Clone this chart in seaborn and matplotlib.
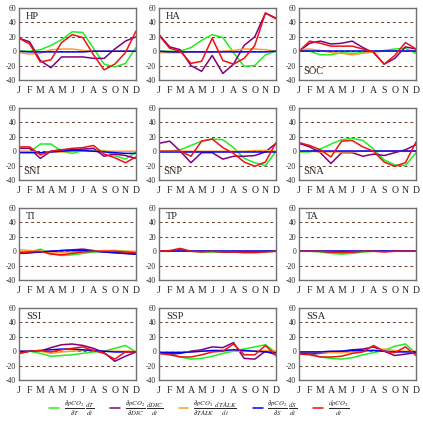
import matplotlib
matplotlib.use("Agg")
import matplotlib.pyplot as plt
from matplotlib.lines import Line2D
import pandas as pd
import seaborn as sns

months = ["J", "F", "M", "A", "M", "J", "J", "A", "S", "O", "N", "D"]
terms = ["thermal", "dic", "talk", "salinity", "total"]
term_colors = ["#22ee22", "#800080", "#ff9a33", "#0000ee", "#ee1111"]
term_labels = [
    r"$\frac{\partial pCO_2}{\partial T}\,\frac{dT}{dt}$",
    r"$\frac{\partial pCO_2}{\partial DIC}\,\frac{dDIC}{dt}$",
    r"$\frac{\partial pCO_2}{\partial TALK}\,\frac{dTALK}{dt}$",
    r"$\frac{\partial pCO_2}{\partial S}\,\frac{dS}{dt}$",
    r"$\frac{dpCO_2}{dt}$",
]

regions = ["HP", "HA", "SOC", "SNI", "SNP", "SNA", "TI", "TP", "TA", "SSI", "SSP", "SSA"]
label_at_bottom = ["SOC", "SNI", "SNP", "SNA"]

# values, per region: thermal, dic, talk, salinity, total
hp_thermal = [0, 0, 2, 8, 16, 27, 26, 4, -18, -22, -17, 5]
hp_dic = [18, 13, -13, -23, -8, -8, -8, -10, -10, 3, 14, 20]
hp_talk = [-2, -4, -3, 2, 3, 3, 1, 0, 0, 0, 0, 0]
hp_sal = [0, -1, -1, -1, -1, -1, -1, 0, 0, 0, 0, 0]
hp_total = [18, 10, -15, -12, 12, 23, 19, -5, -26, -18, -2, 28]

ha_thermal = [0, 0, 0, 5, 15, 23, 19, -2, -21, -20, -5, 0]
ha_dic = [23, 6, 2, -20, -28, -6, -31, -18, 8, 20, 53, 46]
ha_talk = [-2, -2, -2, -1, -1, -1, 0, 1, 3, 3, 2, 0]
ha_sal = [0, -1, -1, -1, -1, -1, -1, -1, -1, -1, -1, 0]
ha_total = [22, 4, 0, -17, -14, 18, -13, -18, -10, 8, 53, 45]

soc_thermal = [0, 0, -5, -5, -2, -3, -2, -1, 1, 3, 4, -3]
soc_dic = [0, 11, 14, 10, 11, 14, 5, -2, -18, -10, 6, 3]
soc_talk = [2, 3, 1, -2, -3, -5, -3, -1, 0, 0, 0, 0]
soc_sal = [0, 0, 0, 0, 0, 0, 0, 0, 0, 0, 0, 0]
soc_total = [0, 14, 11, 7, 7, 7, 3, -1, -18, -6, 12, 3]

sni_thermal = [-1, -1, 10, 10, 0, -3, 1, 1, 1, -6, -11, -1]
sni_dic = [4, 4, -10, 0, 2, 2, 3, 4, -7, -4, -6, -10]
sni_talk = [0, 0, -3, -1, -1, 0, 0, 0, 0, 0, 0, 0]
sni_sal = [-2, -2, -2, -1, 0, 1, 1, 0, -1, -2, -3, -3]
sni_total = [6, 6, -5, 0, 2, 4, 5, 8, -4, -9, -16, -8]

snp_thermal = [0, 0, 2, 8, 14, 17, 16, 5, -10, -16, -20, 0]
snp_dic = [11, 14, 0, -16, -2, -2, -11, -7, -7, -6, -1, 11]
snp_talk = [0, 0, 0, 0, 0, 0, 0, 0, 0, 1, 1, 0]
snp_sal = [-1, -1, -1, -1, -1, -1, -1, -1, -1, -1, -1, -1]
snp_total = [0, 0, 0, -7, 14, 17, 5, -3, -15, -21, -15, 12]

sna_thermal = [-1, -1, 3, 10, 16, 18, 15, 3, -12, -19, -20, -2]
sna_dic = [11, 6, -2, -17, -2, -2, -7, -4, -6, -2, 2, 9]
sna_talk = [0, 0, -1, -1, -1, -1, 0, 0, 0, 0, 0, 0]
sna_sal = [0, 0, 0, 0, 0, 0, 0, 0, 0, 0, 0, 0]
sna_total = [12, 8, 2, -8, 14, 15, 6, 0, -15, -21, -16, 13]

ti_thermal = [-1, -1, 3, -3, -6, -5, -3, -1, 0, 1, 0, -1]
ti_dic = [-3, -2, -1, 0, 1, 2, 3, 1, -1, -2, -3, -4]
ti_talk = [2, 1, 0, -2, -2, -1, 0, 0, 1, 1, 0, 0]
ti_sal = [-3, -2, -1, 0, 1, 1, 1, 0, -1, -2, -3, -4]
ti_total = [-2, -1, 0, -4, -5, -3, -1, 0, 0, 0, -1, -2]

tp_thermal = [0, 0, 2, 0, -1, -1, -1, -1, -1, -1, -1, 0]
tp_dic = [0, 0, 2, 0, 0, 0, -1, -1, -1, -1, 0, 0]
tp_talk = [0, 0, 1, 0, 0, 0, 0, 0, 0, 0, 0, 0]
tp_sal = [0, 0, 0, 0, 0, 0, 0, 0, 0, 0, 0, 0]
tp_total = [0, 1, 4, 0, -1, 0, -1, -1, -2, -2, -1, 0]

ta_thermal = [0, 0, -1, -3, -4, -3, -1, 0, 0, 1, 0, 0]
ta_dic = [0, 0, 0, -1, -1, -1, 0, 0, 0, 0, 0, 0]
ta_talk = [0, 0, 0, 0, 0, 0, 0, 0, 0, 0, 0, 0]
ta_sal = [0, 0, 0, 0, 0, 0, 0, 0, 0, 0, 0, 0]
ta_total = [0, 0, 0, -1, -2, -1, 0, 0, -1, 0, 0, 0]

ssi_thermal = [-2, 0, -3, -7, -6, -5, -3, -1, 0, 4, 8, -1]
ssi_dic = [-3, 0, 0, 5, 9, 10, 8, 4, -2, -14, -7, -1]
ssi_talk = [0, 0, 0, -3, -1, 0, 1, 1, 0, 0, 0, 0]
ssi_sal = [0, 0, 1, 2, 3, 3, 2, 1, 0, -1, -1, -1]
ssi_total = [-3, 0, 1, -1, 2, 4, 6, 1, -3, -11, -1, -1]

ssp_thermal = [-2, -3, -8, -11, -10, -7, -3, 0, 3, 6, 9, -2]
ssp_dic = [-3, -4, -3, 0, 2, 6, 5, 12, -10, -11, 0, -5]
ssp_talk = [-1, -1, -1, -1, 0, 0, 0, 0, 0, 0, 1, 0]
ssp_sal = [-2, -2, -2, -1, 0, 1, 1, 2, 1, 0, -1, -2]
ssp_total = [-3, -5, -8, -8, -5, -1, 0, 10, -5, -5, 8, -6]

ssa_thermal = [-2, -3, -8, -10, -11, -9, -5, -2, 1, 7, 10, -3]
ssa_dic = [-3, -4, -3, -1, 0, 2, 3, 6, 0, -6, -4, -2]
ssa_talk = [-1, -1, -2, -2, -2, -1, 0, 1, 3, 1, 0, 0]
ssa_sal = [-1, -1, -1, 0, 0, 1, 1, 1, 0, -1, -1, -1]
ssa_total = [-4, -5, -8, -8, -7, -3, -1, 8, 0, -2, 6, -6]

series = {
    "HP": [hp_thermal, hp_dic, hp_talk, hp_sal, hp_total],
    "HA": [ha_thermal, ha_dic, ha_talk, ha_sal, ha_total],
    "SOC": [soc_thermal, soc_dic, soc_talk, soc_sal, soc_total],
    "SNI": [sni_thermal, sni_dic, sni_talk, sni_sal, sni_total],
    "SNP": [snp_thermal, snp_dic, snp_talk, snp_sal, snp_total],
    "SNA": [sna_thermal, sna_dic, sna_talk, sna_sal, sna_total],
    "TI": [ti_thermal, ti_dic, ti_talk, ti_sal, ti_total],
    "TP": [tp_thermal, tp_dic, tp_talk, tp_sal, tp_total],
    "TA": [ta_thermal, ta_dic, ta_talk, ta_sal, ta_total],
    "SSI": [ssi_thermal, ssi_dic, ssi_talk, ssi_sal, ssi_total],
    "SSP": [ssp_thermal, ssp_dic, ssp_talk, ssp_sal, ssp_total],
    "SSA": [ssa_thermal, ssa_dic, ssa_talk, ssa_sal, ssa_total],
}


def main():
    sns.set_theme(style="white")
    plt.rcParams["font.family"] = ["Liberation Serif", "DejaVu Serif"]
    plt.rcParams["mathtext.fontset"] = "stix"
    plt.rcParams["axes.unicode_minus"] = False

    fig = plt.figure(figsize=(4.23, 4.23), dpi=100)
    palette = dict(zip(terms, term_colors))

    lefts = [0.045, 0.376, 0.707]
    bottoms = [0.811, 0.5745, 0.338, 0.1017]
    w, h = 0.2766, 0.170

    for i, reg in enumerate(regions):
        r, c = divmod(i, 3)
        ax = fig.add_axes([lefts[c], bottoms[r], w, h])
        rows = []
        for t, vals in zip(terms, series[reg]):
            for m, v in enumerate(vals):
                rows.append({"month": m, "value": v, "term": t})
        df = pd.DataFrame(rows)

        for yv in [-20, 0, 20, 40]:
            ax.axhline(yv, color="#6b3a2a", lw=0.7, ls=(0, (3, 3)), zorder=0)

        sns.lineplot(data=df, x="month", y="value", hue="term", hue_order=terms,
                     palette=palette, linewidth=1.1, legend=False, ax=ax,
                     estimator=None)

        ax.set_xlim(0, 11)
        ax.set_ylim(-40, 60)
        ax.set_xticks(range(12))
        ax.set_xticklabels(months, fontsize=7)
        ax.set_yticks([-40, -20, 0, 20, 40, 60])
        ax.set_yticklabels([str(v) for v in [-40, -20, 0, 20, 40, 60]], fontsize=5.5)
        ax.tick_params(axis="both", length=0, pad=2)
        ax.tick_params(axis="x", pad=4)
        ax.set_xlabel("")
        ax.set_ylabel("")
        for s in ax.spines.values():
            s.set_color("#707070")
            s.set_linewidth(1.0)

        if reg in label_at_bottom:
            ax.text(0.04, 0.05, reg, transform=ax.transAxes, fontsize=7.5, va="bottom", ha="left")
        else:
            ax.text(0.06, 0.95, reg, transform=ax.transAxes, fontsize=7.5, va="top", ha="left")

    handles = [Line2D([0], [0], color=col, lw=1.1) for col in term_colors]
    fig.legend(handles, term_labels, loc="lower center", bbox_to_anchor=(0.47, -0.01),
               ncol=5, frameon=False, fontsize=7, handlelength=1.0, handletextpad=0.5,
               columnspacing=1.6)

    fig.savefig("out.png", dpi=100)
    plt.close(fig)


if __name__ == "__main__":
    main()
